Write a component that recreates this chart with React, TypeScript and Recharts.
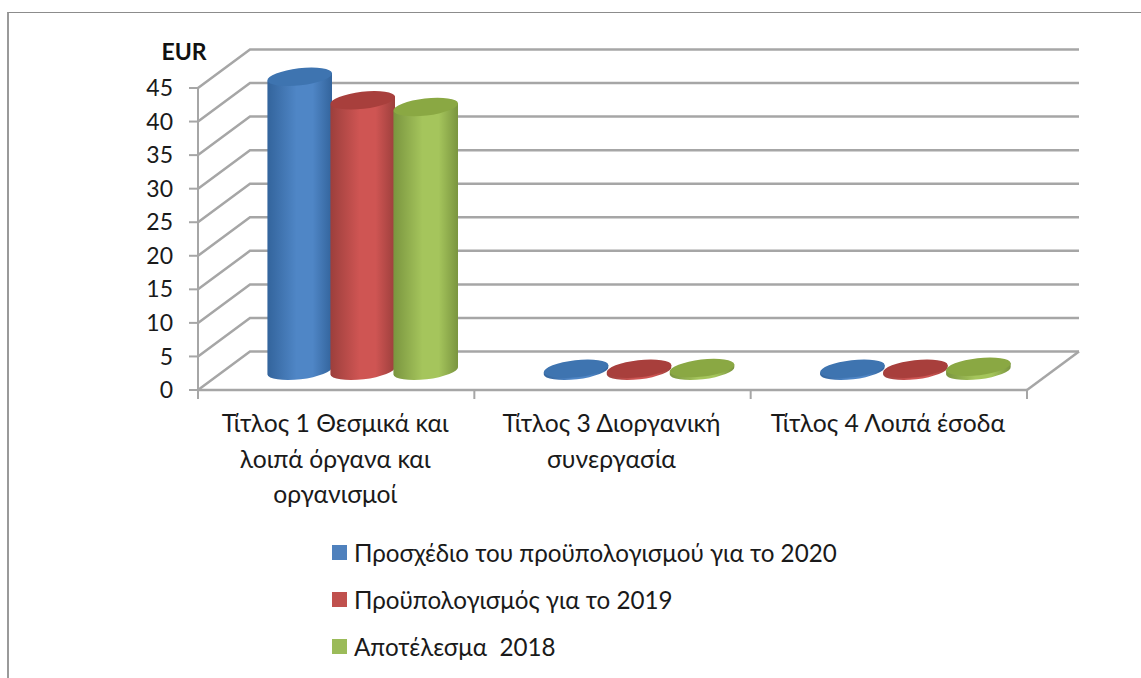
import React from 'react';
import { BarChart, Bar, XAxis, YAxis, CartesianGrid, Legend } from 'recharts';

const categories = [
  'Τίτλος 1 Θεσμικά και λοιπά όργανα και οργανισμοί',
  'Τίτλος 3 Διοργανική συνεργασία',
  'Τίτλος 4 Λοιπά έσοδα',
];
const categoryLines = [
  ['Τίτλος 1 Θεσμικά και', 'λοιπά όργανα και', 'οργανισμοί'],
  ['Τίτλος 3 Διοργανική', 'συνεργασία'],
  ['Τίτλος 4 Λοιπά έσοδα'],
];
const draft2020 = [43.8, 0.3, 0.3];
const budget2019 = [40.3, 0.3, 0.3];
const result2018 = [39.3, 0.4, 0.6];
const yTicks = [0, 5, 10, 15, 20, 25, 30, 35, 40, 45];

const data = categories.map((name, i) => ({
  name,
  draft: draft2020[i],
  budget: budget2019[i],
  result: result2018[i],
}));

const FONT = 'Lato, "Noto Sans", sans-serif';
const GRID = '#a6a6a6';
const TEXT = '#1a1a1a';

// fake 3D depth of the floor / walls
const DEPTH_X = 52;
const DEPTH_Y = -38.5;
const TILT = 6.5;
const RY = 8.5;

const COLORS: Record<string, { cap: string; edge: string; mid: string }> = {
  '#4f81bd': { cap: '#3e74b0', edge: '#33649c', mid: '#4f86c6' },
  '#c0504d': { cap: '#a83f3c', edge: '#9c3f3c', mid: '#cf5553' },
  '#9bbb59': { cap: '#8aa843', edge: '#7a953f', mid: '#a5c55c' },
};

function Cylinder(props: any) {
  const { x, y, width, height, fill } = props;
  const c = COLORS[fill];
  const rx = width / 2 + 1;
  const cx = x + width / 2 + DEPTH_X / 2;
  const top = y + DEPTH_Y / 2;
  const bottom = top + height;
  const dx = rx * Math.cos((TILT * Math.PI) / 180);
  const dy = rx * Math.sin((TILT * Math.PI) / 180);
  const body =
    `M${cx - dx},${top + dy} L${cx - dx},${bottom + dy} ` +
    `A${rx},${RY} ${-TILT} 0 0 ${cx + dx},${bottom - dy} ` +
    `L${cx + dx},${top - dy} Z`;
  return (
    <g>
      <path d={body} fill={`url(#grad-${fill.slice(1)})`} />
      <ellipse
        cx={cx}
        cy={top}
        rx={rx}
        ry={RY}
        fill={c.cap}
        transform={`rotate(${-TILT} ${cx} ${top})`}
      />
    </g>
  );
}

function gridLine(props: any) {
  const { x1, y1, x2, index } = props;
  const isFloor = y1 > 389;
  const points = `${x1},${y1} ${x1 + DEPTH_X},${y1 + DEPTH_Y} ${x2 + DEPTH_X},${y1 + DEPTH_Y}`;
  return (
    <g key={`grid-${index}`}>
      <polyline points={points} fill="none" stroke={GRID} strokeWidth={2.5} />
      {isFloor && (
        <line
          x1={x2}
          y1={y1}
          x2={x2 + DEPTH_X}
          y2={y1 + DEPTH_Y}
          stroke={GRID}
          strokeWidth={2.5}
        />
      )}
    </g>
  );
}

function CategoryTick(props: any) {
  const { x, y, width, visibleTicksCount, index } = props;
  const band = width / visibleTicksCount;
  const last = index === visibleTicksCount - 1;
  return (
    <g>
      <line x1={x - band / 2} y1={y} x2={x - band / 2} y2={y + 9} stroke={GRID} strokeWidth={2} />
      {last && <line x1={x + band / 2} y1={y} x2={x + band / 2} y2={y + 9} stroke={GRID} strokeWidth={2} />}
      <text textAnchor="middle" fontSize={24.7} fontFamily={FONT} fill={TEXT}>
        {categoryLines[index].map((line, i) => (
          <tspan key={line} x={x - 1} y={y + 42 + i * 35.5}>
            {line}
          </tspan>
        ))}
      </text>
    </g>
  );
}

function LegendContent(props: any) {
  return (
    <div>
      {props.payload.map((p: any) => (
        <div
          key={p.value}
          style={{ display: 'flex', alignItems: 'center', height: 47, fontFamily: FONT, fontSize: 24.2, color: TEXT }}
        >
          <span style={{ width: 15, height: 15, background: p.color, marginRight: 7, display: 'inline-block' }} />
          <span style={{ whiteSpace: 'pre' }}>{p.value}</span>
        </div>
      ))}
    </div>
  );
}

export default function App() {
  return (
    <div style={{ position: 'absolute', left: 0, top: 0, width: 1141, height: 678, background: '#fff', overflow: 'hidden' }}>
      <div
        style={{
          position: 'absolute',
          left: 7,
          top: 12,
          width: 1134,
          height: 666,
          borderTop: '1px solid #8c8c8c',
          borderLeft: '2px solid #9a9a9a',
        }}
      />
      <div style={{ position: 'absolute', left: 0, top: 0 }}>
        <BarChart
          width={1141}
          height={678}
          data={data}
          margin={{ top: 88, right: 114, bottom: 228, left: 138 }}
          barCategoryGap="16%"
          barGap={0}
        >
          <defs>
            {Object.entries(COLORS).map(([key, c]) => (
              <linearGradient key={key} id={`grad-${key.slice(1)}`} x1="0" y1="0" x2="1" y2="0">
                <stop offset="0%" stopColor={c.edge} />
                <stop offset="45%" stopColor={c.mid} />
                <stop offset="70%" stopColor={c.mid} />
                <stop offset="100%" stopColor={c.edge} />
              </linearGradient>
            ))}
          </defs>
          <CartesianGrid horizontal={gridLine} vertical={false} />
          <XAxis
            dataKey="name"
            height={60}
            interval={0}
            tickLine={false}
            tickSize={0}
            tickMargin={0}
            axisLine={{ stroke: GRID, strokeWidth: 2.5 }}
            tick={CategoryTick}
          />
          <YAxis
            width={60}
            domain={[0, 45]}
            ticks={yTicks}
            interval={0}
            tickSize={9}
            tickMargin={16}
            tick={{ fontSize: 23, fontFamily: FONT, fill: TEXT }}
            tickLine={{ stroke: GRID, strokeWidth: 2 }}
            axisLine={{ stroke: GRID, strokeWidth: 2 }}
            label={{
              value: 'EUR',
              position: 'top',
              dx: 16,
              dy: -23,
              fontSize: 23,
              fontWeight: 700,
              fontFamily: FONT,
              fill: '#111',
            }}
          />
          <Legend
            layout="horizontal"
            verticalAlign="middle"
            itemSorter={null}
            content={LegendContent}
            wrapperStyle={{ left: 332, top: 529, width: 560 }}
          />
          <Bar name="Προσχέδιο του προϋπολογισμού για το 2020" dataKey="draft" fill="#4f81bd" shape={Cylinder} isAnimationActive={false} />
          <Bar name="Προϋπολογισμός για το 2019" dataKey="budget" fill="#c0504d" shape={Cylinder} isAnimationActive={false} />
          <Bar name="Αποτέλεσμα  2018" dataKey="result" fill="#9bbb59" shape={Cylinder} isAnimationActive={false} />
        </BarChart>
      </div>
    </div>
  );
}
